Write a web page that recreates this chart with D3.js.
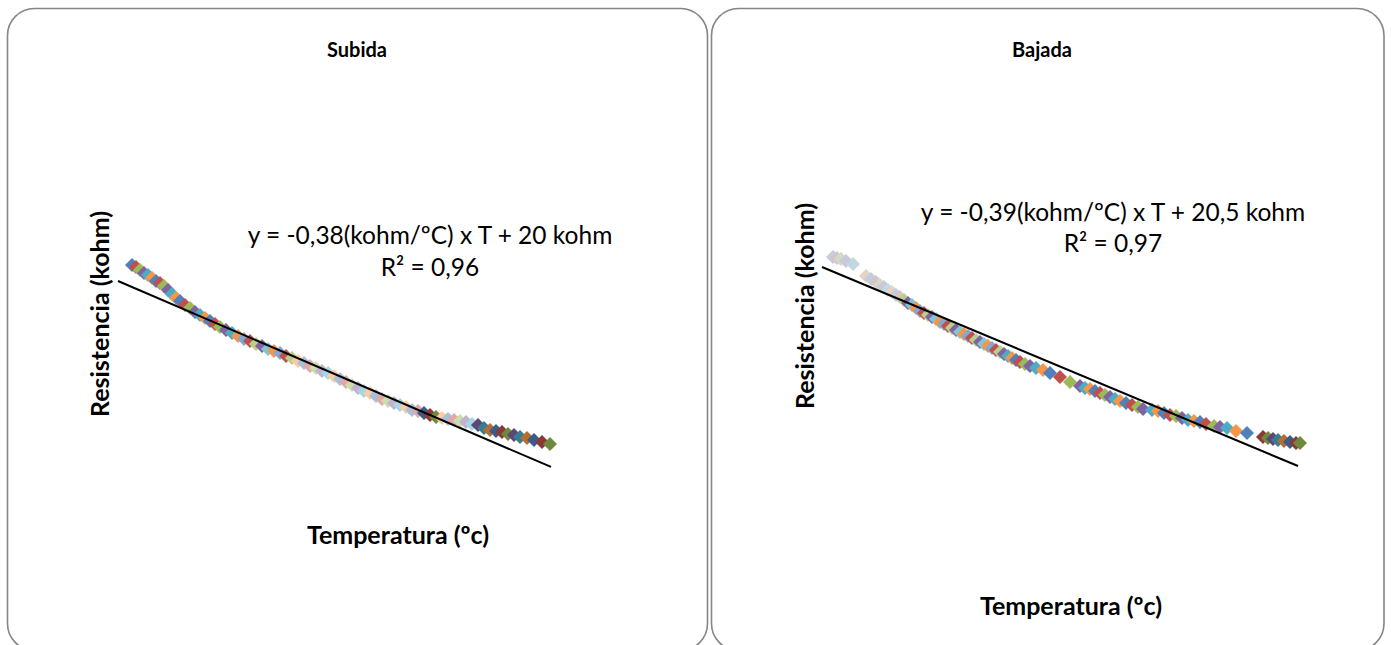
<!DOCTYPE html>
<html>
<head>
<meta charset="utf-8">
<script src="https://cdn.jsdelivr.net/npm/d3@7"></script>
<style>
  html, body { margin: 0; padding: 0; background: #ffffff; }
  svg { display: block; }
  text { font-family: Lato, "Open Sans", "Liberation Sans", sans-serif; fill: #000; }
</style>
</head>
<body>
<svg id="chart" width="1391" height="645"></svg>
<script>
// ---------------- DATA ----------------
const panelTitles = ["Subida", "Bajada"];
const xAxisTitle = "Temperatura (ºc)";
const yAxisTitle = "Resistencia (kohm)";

// Subida (heating) : temperature (ºC) and resistance (kohm)
const subidaT = [1.4,1.8,2.2,2.6,3.0,3.4,3.8,4.2,4.6,5.0,
  5.4,5.8,6.2,6.7,7.2,7.7,8.2,8.7,9.2,9.7,
  10.2,10.8,11.4,12.0,12.6,13.2,13.8,14.4,15.0,15.6,
  16.2,16.8,17.4,18.0,18.6,19.2,19.8,20.4,21.0,21.6,
  22.2,22.8,23.4,24.0,24.6,25.2,25.8,26.4,27.0,27.6,
  28.2,28.8,29.4,30.0,30.6,31.2,31.8,32.4,33.0,33.6,
  34.2,34.8,35.4,36.0,36.6,37.2,37.8,38.4,39.0,39.6,
  40.2,40.9,41.6,42.4,43.2];
const subidaR = [21.42,21.24,20.97,20.71,20.53,20.27,20.00,19.82,19.56,19.20,
  18.85,18.50,18.23,17.88,17.61,17.26,16.99,16.73,16.46,16.19,
  15.93,15.66,15.40,15.13,14.87,14.69,14.42,14.25,13.98,13.81,
  13.63,13.36,13.19,12.92,12.74,12.48,12.30,12.04,11.86,11.59,
  11.33,11.06,10.80,10.53,10.27,10.09,9.82,9.56,9.38,9.20,
  9.03,8.85,8.58,8.50,8.32,8.14,7.96,7.88,7.79,7.70,
  7.61,7.52,7.35,7.26,6.99,6.81,6.73,6.64,6.46,6.37,
  6.19,6.11,5.93,5.75,5.58];

// Bajada (cooling)
const bajadaT = [1.1,1.5,1.9,2.4,3.1,4.4,4.9,5.4,5.8,6.2,
  6.6,7.0,7.4,7.8,8.2,8.6,9.0,9.4,9.8,10.2,
  10.6,11.0,11.4,11.8,12.2,12.6,13.0,13.4,13.8,14.2,
  14.6,15.0,15.4,15.8,16.2,16.6,17.0,17.4,17.8,18.2,
  18.6,19.0,19.4,19.8,20.3,20.8,21.4,22.1,22.8,23.8,
  24.8,25.8,26.3,26.8,27.3,27.8,28.3,28.8,29.3,29.8,
  30.4,31.0,31.6,32.1,33.0,33.6,34.2,34.8,35.4,36.0,
  36.6,37.2,37.8,38.4,39.2,39.8,40.5,41.4,42.5,44.1,
  44.6,45.1,45.6,46.2,46.8,47.4,47.8];
const bajadaR = [21.43,21.34,21.25,21.06,20.78,19.66,19.38,19.10,18.82,18.63,
  18.35,18.17,17.89,17.70,17.42,17.14,16.96,16.68,16.40,16.21,
  16.02,15.84,15.65,15.37,15.18,15.00,14.81,14.62,14.44,14.25,
  14.06,13.88,13.69,13.50,13.32,13.13,12.94,12.76,12.57,12.38,
  12.20,12.01,11.82,11.64,11.45,11.26,11.08,10.89,10.61,10.24,
  9.77,9.40,9.21,9.12,8.93,8.75,8.56,8.37,8.19,8.00,
  7.81,7.63,7.44,7.25,7.16,7.07,6.88,6.69,6.60,6.41,
  6.23,6.13,6.04,5.85,5.67,5.57,5.48,5.20,5.01,4.64,
  4.55,4.46,4.36,4.27,4.18,4.08,4.08];

// Linear trendlines
const trendSlope = [-0.38, -0.39];
const trendIntercept = [20, 20.5];
const trendEquation = ["y = -0,38(kohm/ºC) x T + 20 kohm", "y = -0,39(kohm/ºC) x T + 20,5 kohm"];
const trendR2 = ["R² = 0,96", "R² = 0,97"];

// ---------------- STYLE ----------------
const baseColors = ["#4F81BD", "#C0504D", "#9BBB59", "#8064A2", "#4BACC6", "#F79646"];
const darkColors = ["#385D8A", "#8C3836", "#71893F", "#5C4776", "#357D91", "#B66D31"];
function tint(c, k) { return d3.interpolateRgb(c, "#ffffff")(k); }

// colour zones (temperature thresholds) per panel: [maxT, kind]
const zonesSubida = [[12, "base"], [18, "mid"], [30.2, "pale"], [32.4, "dark"], [36, "pale"], [99, "dark"]];
const zonesBajada = [[8, "grey"], [18, "mid"], [33, "base"], [43.5, "base"], [99, "dark"]];

function colorFor(zones, t, i) {
  const kind = zones.find(z => t < z[0])[1];
  const h = i % 6;
  if (kind === "base") return baseColors[h];
  if (kind === "dark") return darkColors[h];
  if (kind === "mid") return i % 2 ? baseColors[h] : tint(baseColors[h], 0.3);
  if (kind === "grey") return tint(d3.interpolateRgb(baseColors[h], "#9aa4b8")(0.5), 0.55);
  return tint(baseColors[(h + 2) % 6], 0.5);
}

const svg = d3.select("#chart");

const panels = [
  { box: [7.5, 8.5, 700, 642], title: [357, 57],
    T: subidaT, R: subidaR, zones: zonesSubida,
    x: d3.scaleLinear().domain([0, 43.3]).range([118, 551]),
    y: d3.scaleLinear().domain([0, 20]).range([507, 281]),
    eq: [430, 244, 276], yTitle: [109, 314], xTitle: [398, 544] },
  { box: [711.5, 8.5, 672.5, 642], title: [1042, 57],
    T: bajadaT, R: bajadaR, zones: zonesBajada,
    x: d3.scaleLinear().domain([0, 47.6]).range([822, 1298]),
    y: d3.scaleLinear().domain([0, 20.5]).range([486.8, 267]),
    eq: [1113, 221, 252], yTitle: [814, 306], xTitle: [1071, 615] }
];

const diamond = "M0,-7L7,0L0,7L-7,0Z";

panels.forEach((p, k) => {
  const g = svg.append("g");
  g.append("rect")
    .attr("x", p.box[0]).attr("y", p.box[1])
    .attr("width", p.box[2]).attr("height", p.box[3])
    .attr("rx", 27).attr("ry", 27)
    .attr("fill", "#ffffff").attr("stroke", "#868686").attr("stroke-width", 1.6);

  g.append("text").attr("x", p.title[0]).attr("y", p.title[1])
    .attr("text-anchor", "middle").attr("font-weight", "bold").attr("font-size", 20)
    .text(panelTitles[k]);

  const pts = p.T.map((t, i) => ({ t, r: p.R[i], i }));
  g.append("g").selectAll("path").data(pts).enter().append("path")
    .attr("d", diamond)
    .attr("transform", d => `translate(${p.x(d.t)},${p.y(d.r)})`)
    .attr("fill", d => colorFor(p.zones, d.t, d.i));

  const [t0, t1] = p.x.domain();
  g.append("line")
    .attr("x1", p.x(t0)).attr("y1", p.y(trendSlope[k] * t0 + trendIntercept[k]))
    .attr("x2", p.x(t1)).attr("y2", p.y(trendSlope[k] * t1 + trendIntercept[k]))
    .attr("stroke", "#000").attr("stroke-width", 2);

  g.append("text").attr("x", p.eq[0]).attr("y", p.eq[1])
    .attr("text-anchor", "middle").attr("font-size", 24.5).text(trendEquation[k]);
  g.append("text").attr("x", p.eq[0]).attr("y", p.eq[2])
    .attr("text-anchor", "middle").attr("font-size", 24.5).text(trendR2[k]);

  g.append("text")
    .attr("transform", `translate(${p.yTitle[0]},${p.yTitle[1]}) rotate(-90)`)
    .attr("text-anchor", "middle").attr("font-weight", "bold").attr("font-size", 25)
    .text(yAxisTitle);
  g.append("text").attr("x", p.xTitle[0]).attr("y", p.xTitle[1])
    .attr("text-anchor", "middle").attr("font-weight", "bold").attr("font-size", 25)
    .text(xAxisTitle);
});
</script>
</body>
</html>
